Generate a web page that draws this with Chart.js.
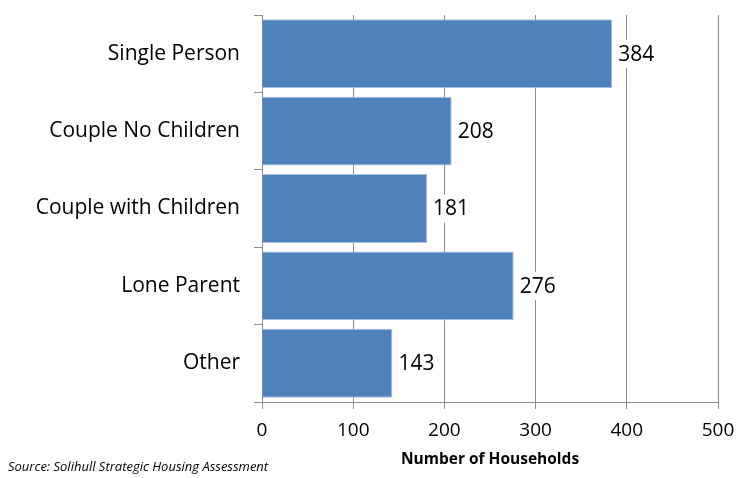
<!DOCTYPE html>
<html>
<head>
<meta charset="utf-8">
<script src="https://cdn.jsdelivr.net/npm/chart.js@4/dist/chart.umd.min.js"></script>
<style>
html,body{margin:0;padding:0;background:#fff;}
</style>
</head>
<body>
<canvas id="hh" width="737" height="478"></canvas>
<script>
const categories=['Single Person','Couple No Children','Couple with Children','Lone Parent','Other'];
const households=[384,208,181,276,143];
const xTicks=[0,100,200,300,400,500];

const FONT="'Open Sans', 'Liberation Sans', sans-serif";

// value labels with white backing, axis title and source note
const extras={
  id:'extras',
  afterDatasetsDraw(chart){
    const c=chart.ctx;
    const meta=chart.getDatasetMeta(0);
    c.save();
    c.font='21px '+FONT;
    c.textBaseline='middle';
    c.textAlign='left';
    meta.data.forEach((bar,i)=>{
      const txt=String(households[i]);
      const w=c.measureText(txt).width;
      const x=bar.x+6;
      c.fillStyle='#fff';
      c.fillRect(x-2,bar.y-14,w+4,28);
      c.fillStyle='#000';
      c.fillText(txt,x,bar.y+1);
    });
    const a=chart.chartArea;
    c.font='bold 15.5px '+FONT;
    c.textAlign='center';
    c.fillText('Number of Households',(a.left+a.right)/2,460);
    c.font='italic 13px '+FONT;
    c.textAlign='left';
    c.fillText('Source: Solihull Strategic Housing Assessment',8,467);
    c.restore();
  }
};

// keep label overhang from shrinking the plot
const noPad=s=>{s.paddingTop=0;s.paddingBottom=0;s.paddingLeft=0;s.paddingRight=0;};

new Chart(document.getElementById('hh'),{
  type:'bar',
  data:{
    labels:categories,
    datasets:[{
      data:households,
      backgroundColor:'#4f81bd',
      borderColor:'#a9c1df',
      borderWidth:1,
      categoryPercentage:1,
      barPercentage:0.89
    }]
  },
  options:{
    indexAxis:'y',
    responsive:false,
    animation:false,
    layout:{padding:{top:15,right:19,left:0,bottom:0}},
    plugins:{legend:{display:false},tooltip:{enabled:false}},
    scales:{
      x:{
        min:0,max:500,
        afterBuildTicks:s=>{s.ticks=xTicks.map(v=>({value:v}));},
        afterFit:s=>{s.height=76;noPad(s);},
        grid:{color:'#8c8c8c',lineWidth:1,tickLength:7},
        border:{color:'#8c8c8c'},
        ticks:{color:'#000',font:{size:19,family:FONT},padding:10}
      },
      y:{
        afterFit:s=>{s.width=262;noPad(s);},
        grid:{drawOnChartArea:false,color:'#8c8c8c',tickLength:8,offset:true},
        border:{color:'#8c8c8c'},
        ticks:{color:'#000',font:{size:21,family:FONT},padding:14}
      }
    }
  },
  plugins:[extras]
});
</script>
</body>
</html>
